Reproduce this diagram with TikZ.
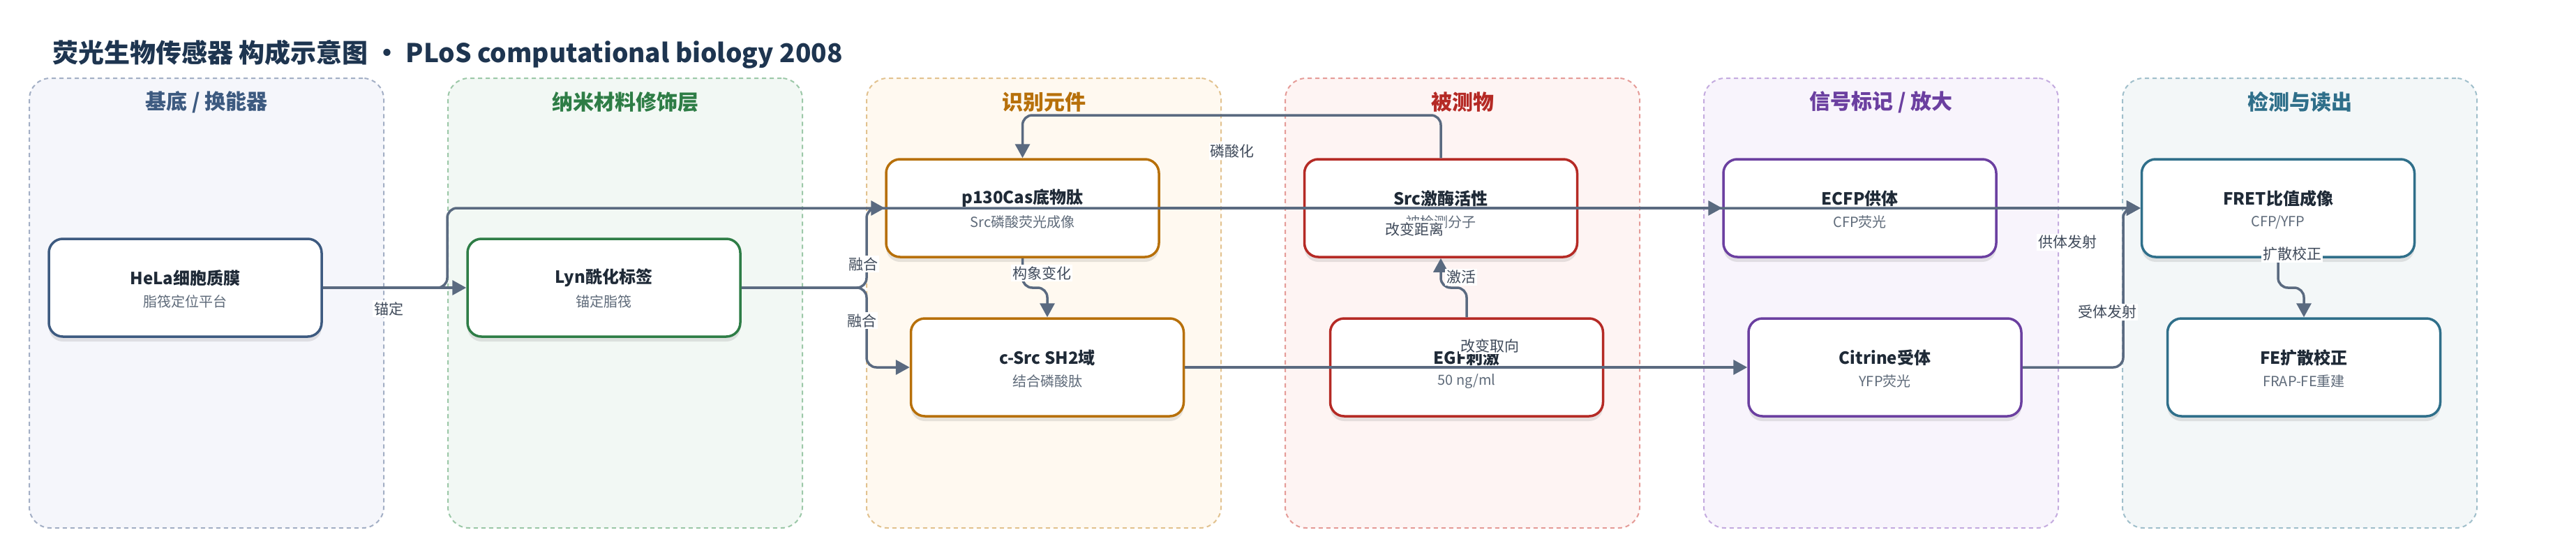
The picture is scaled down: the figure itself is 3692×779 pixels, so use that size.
\documentclass[tikz,border=0pt]{standalone}
\usepackage{fontspec}
\setmainfont{Noto Sans CJK SC}
\usetikzlibrary{arrows.meta,shadows}

\definecolor{edgec}{HTML}{5A6A80}
\definecolor{lblc}{HTML}{3F4A5A}
\definecolor{ttlc}{HTML}{1F2A37}
\definecolor{subc}{HTML}{5F6B7A}
\definecolor{titlec}{HTML}{1E3550}
% column fills / borders / headings
\definecolor{f1}{HTML}{F5F6FB}\definecolor{b1}{HTML}{A3AFC5}\definecolor{k1}{HTML}{3D5A80}
\definecolor{f2}{HTML}{F2F8F4}\definecolor{b2}{HTML}{9CC8A8}\definecolor{k2}{HTML}{2E7D46}
\definecolor{f3}{HTML}{FFF9F0}\definecolor{b3}{HTML}{E2C28F}\definecolor{k3}{HTML}{B7700A}
\definecolor{f4}{HTML}{FEF4F3}\definecolor{b4}{HTML}{E59C98}\definecolor{k4}{HTML}{B52A25}
\definecolor{f5}{HTML}{F8F4FC}\definecolor{b5}{HTML}{C4ABDF}\definecolor{k5}{HTML}{6B3FA0}
\definecolor{f6}{HTML}{F3F7F8}\definecolor{b6}{HTML}{A0BFCB}\definecolor{k6}{HTML}{2F6F8A}

\newcommand\colpanel[5]{%
  \node[colbox, fill=f#1, draw=b#1] (col#1) at (#2,434) {};
  \node[colhead, text=k#1] (head#1) at (#2,146) {#3};
}
\newcommand\bionode[6]{%
  \node[biobox, draw=#4] (#1) at (#2,#3) {};
  \node[ttl] (#1-t) at (#2,#3-14) {#5};
  \node[sub] (#1-s) at (#2,#3+20) {#6};
}

\begin{document}
\begin{tikzpicture}[x=1pt,y=-1pt,
  colbox/.style={rectangle, rounded corners=30pt, minimum width=508pt, minimum height=644pt,
    line width=2pt, dash pattern=on 6pt off 5pt, inner sep=0pt},
  colhead/.style={font=\fontsize{30}{34}\selectfont\bfseries, inner sep=0pt},
  biobox/.style={rectangle, rounded corners=20pt, minimum width=391pt, minimum height=140pt,
    line width=3.5pt, fill=white, inner sep=0pt,
    drop shadow={shadow xshift=0pt, shadow yshift=-7pt, opacity=0.16, fill=black!60}},
  ttl/.style={font=\fontsize{24}{28}\selectfont\bfseries, text=ttlc, inner sep=0pt},
  sub/.style={font=\fontsize{20}{24}\selectfont, text=subc, inner sep=0pt},
  edge/.style={draw=edgec, line width=3.5pt, rounded corners=14pt,
    -{Triangle[length=20pt,width=21pt]}},
  lbl/.style={font=\fontsize{21}{24}\selectfont, text=lblc, fill=white, inner sep=2pt},
]
\useasboundingbox (0,0) rectangle (3692,779);
\fill[white] (0,0) rectangle (3692,779);

% title
\node[anchor=west, font=\fontsize{37}{43}\selectfont\bfseries, text=titlec, inner sep=0pt]
  (title) at (75,78) {荧光生物传感器 构成示意图 · PLoS computational biology 2008};

% columns
\colpanel{1}{296}{基底 / 换能器}{}{}
\colpanel{2}{896}{纳米材料修饰层}{}{}
\colpanel{3}{1496}{识别元件}{}{}
\colpanel{4}{2096}{被测物}{}{}
\colpanel{5}{2696}{信号标记 / 放大}{}{}
\colpanel{6}{3296}{检测与读出}{}{}

% nodes
\bionode{hela}{265.5}{412}{k1}{HeLa细胞质膜}{脂筏定位平台}
\bionode{lyn}{865.5}{412}{k2}{Lyn酰化标签}{锚定脂筏}
\bionode{p130}{1465.5}{298}{k3}{p130Cas底物肽}{Src磷酸荧光成像}
\bionode{csrc}{1501}{526}{k3}{c-Src SH2域}{结合磷酸肽}
\bionode{src}{2065}{298}{k4}{Src激酶活性}{被检测分子}
\bionode{egf}{2102}{526}{k4}{EGF刺激}{50 ng/ml}
\bionode{ecfp}{2665.5}{298}{k5}{ECFP供体}{CFP荧光}
\bionode{citrine}{2701.5}{526}{k5}{Citrine受体}{YFP荧光}
\bionode{fret}{3265}{298}{k6}{FRET比值成像}{CFP/YFP}
\bionode{fe}{3302}{526}{k6}{FE扩散校正}{FRAP-FE重建}

% connectors
\draw[edge] (hela.east) -- (641,412) -- (641,298) -- (fret.west);
\draw[edge] (hela.east) -- (lyn.west);
\draw[edge] (lyn.east) -- (1242,412) -- (1242,298) -- (p130.west);
\draw[edge] (lyn.east) -- (1242,412) -- (1242,526) -- (csrc.west);
\draw[edge] (p130.east) -- (ecfp.west);
\draw[edge] (ecfp.east) -- (fret.west);
\draw[edge] (csrc.east) -- (citrine.west);
\draw[edge] (citrine.east) -- (3043,526) -- (3043,298) -- (fret.west);
\draw[edge] (src.north) -- (src.north |- 0,165) -- (p130.north |- 0,165) -- (p130.north);
\draw[edge] (p130.south) -- (p130.south |- 0,412) -- (csrc.north |- 0,412) -- (csrc.north);
\draw[edge] (egf.north) -- (egf.north |- 0,412) -- (src.south |- 0,412) -- (src.south);
\draw[edge] (fret.south) -- (fret.south |- 0,412) -- (fe.north |- 0,412) -- (fe.north);

% connector labels
\node[lbl] (l-anding) at (557,442) {锚定};
\node[lbl] (l-ronghe1) at (1237,378) {融合};
\node[lbl] (l-ronghe2) at (1235,459) {融合};
\node[lbl] (l-linsuan) at (1766,217) {磷酸化};
\node[lbl] (l-gouxiang) at (1493,391) {构象变化};
\node[lbl] (l-jihuo) at (2094,397) {激活};
\node[lbl] (l-juli) at (2027,328) {改变距离};
\node[lbl] (l-quxiang) at (2135,495) {改变取向};
\node[lbl] (l-gongti) at (2963,347) {供体发射};
\node[lbl] (l-shouti) at (3020,447) {受体发射};
\node[lbl] (l-kuosan) at (3285,364) {扩散校正};
\end{tikzpicture}
\end{document}
